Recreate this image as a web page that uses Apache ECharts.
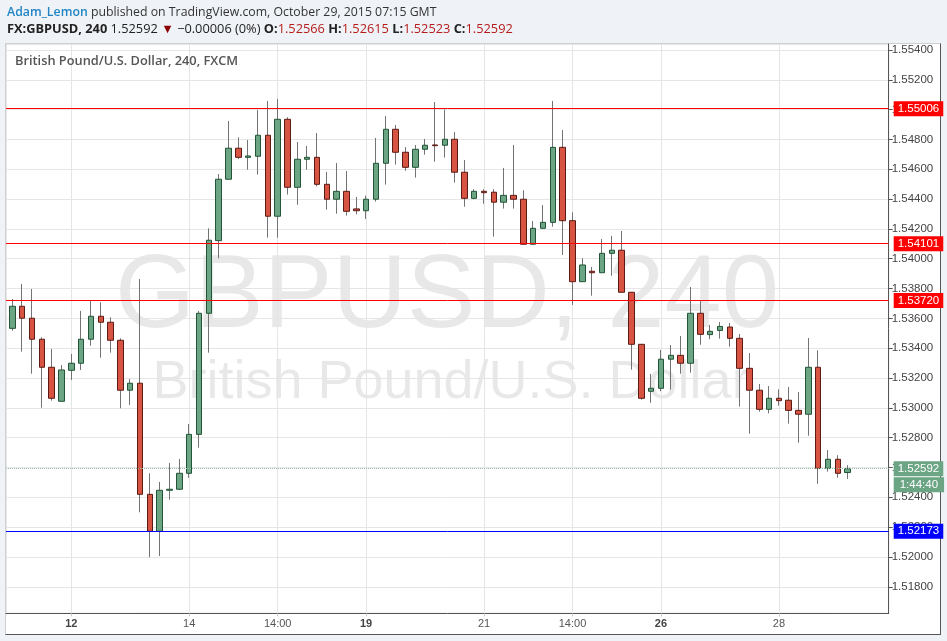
<!DOCTYPE html>
<html><head><meta charset="utf-8">
<script src="https://cdn.jsdelivr.net/npm/echarts@6/dist/echarts.min.js"></script>
<style>
html,body{margin:0;padding:0;background:#eff3f7;}
#wrap{position:relative;width:947px;height:641px;overflow:hidden;}
#frame{position:absolute;left:5px;top:43px;width:934px;height:590px;background:#fff;border-left:1px solid #cfcfcf;border-top:1px solid #cfcfcf;border-right:1px solid #555;border-bottom:1px solid #555;}
#chart{position:absolute;left:0;top:0;width:947px;height:641px;}
</style></head><body>
<div id="wrap"><div id="frame"></div><div id="chart"></div></div>
<script>
// ---- data (GBPUSD 240, FXCM) ----
const opens = [1.53533,1.53681,1.53601,1.53460,1.53272,1.53044,1.53252,1.53299,1.53460,1.53614,1.53574,1.53453,1.53118,1.53165,1.52420,1.52172,1.52447,1.52454,1.52561,1.52822,1.53634,1.54121,1.54533,1.54741,1.54680,1.54687,1.54828,1.54285,1.54935,1.54479,1.54667,1.54680,1.54499,1.54399,1.54452,1.54334,1.54322,1.54399,1.54640,1.54868,1.54714,1.54613,1.54734,1.54763,1.54761,1.54801,1.54580,1.54405,1.54452,1.54446,1.54379,1.54425,1.54399,1.54097,1.54204,1.54244,1.54747,1.54255,1.53846,1.53916,1.53906,1.54036,1.54057,1.53775,1.53426,1.53111,1.53131,1.53326,1.53352,1.53299,1.53634,1.53491,1.53519,1.53542,1.53466,1.53265,1.53118,1.52990,1.53064,1.53051,1.52983,1.52957,1.53272,1.52594,1.52655,1.52566];
const closes = [1.53681,1.53601,1.53460,1.53272,1.53064,1.53254,1.53299,1.53460,1.53614,1.53574,1.53453,1.53118,1.53165,1.52420,1.52172,1.52447,1.52454,1.52561,1.52822,1.53634,1.54124,1.54533,1.54741,1.54680,1.54689,1.54828,1.54285,1.54935,1.54479,1.54667,1.54680,1.54499,1.54399,1.54452,1.54318,1.54322,1.54399,1.54640,1.54868,1.54714,1.54613,1.54734,1.54761,1.54758,1.54801,1.54580,1.54405,1.54452,1.54443,1.54379,1.54425,1.54399,1.54097,1.54204,1.54244,1.54747,1.54255,1.53846,1.53958,1.53906,1.54036,1.54057,1.53775,1.53426,1.53064,1.53131,1.53326,1.53352,1.53299,1.53634,1.53493,1.53513,1.53546,1.53466,1.53265,1.53118,1.52990,1.53064,1.53048,1.52983,1.52957,1.53272,1.52594,1.52655,1.52561,1.52592];
const lows = [1.53517,1.53377,1.53229,1.53001,1.53048,1.53044,1.53187,1.53254,1.53417,1.53336,1.53370,1.52997,1.53019,1.52299,1.51998,1.52006,1.52384,1.52450,1.52531,1.52733,1.53370,1.54003,1.54533,1.54669,1.54597,1.54564,1.54141,1.54141,1.54430,1.54362,1.54597,1.54486,1.54329,1.54302,1.54289,1.54298,1.54267,1.54383,1.54497,1.54631,1.54590,1.54544,1.54698,1.54651,1.54678,1.54510,1.54349,1.54399,1.54369,1.54148,1.54336,1.54336,1.54097,1.54097,1.54204,1.54215,1.54025,1.53690,1.53846,1.53752,1.53906,1.53886,1.53775,1.53256,1.53055,1.53034,1.53111,1.53122,1.53229,1.53236,1.53423,1.53460,1.53464,1.53410,1.53008,1.52827,1.52974,1.52963,1.53014,1.52894,1.52766,1.52813,1.52491,1.52572,1.52531,1.52523];
const highs = [1.53730,1.53831,1.53797,1.53473,1.53395,1.53287,1.53361,1.53650,1.53719,1.53708,1.53607,1.53466,1.53193,1.53864,1.52561,1.52503,1.52630,1.52657,1.52892,1.53650,1.54204,1.54568,1.54924,1.54814,1.54796,1.54998,1.55058,1.55071,1.54949,1.54783,1.54756,1.54843,1.54582,1.54642,1.54588,1.54414,1.54423,1.54810,1.54957,1.54897,1.54749,1.54763,1.54803,1.55051,1.55000,1.54850,1.54662,1.54466,1.54466,1.54466,1.54609,1.54763,1.54459,1.54253,1.54360,1.55058,1.54863,1.54311,1.54003,1.53945,1.54132,1.54153,1.54186,1.53775,1.53426,1.53227,1.53388,1.53421,1.53482,1.53810,1.53717,1.53556,1.53576,1.53569,1.53495,1.53368,1.53160,1.53146,1.53124,1.53140,1.53106,1.53468,1.53386,1.52717,1.52682,1.52615];
const xTickIndex = [6,18,27,36,48,57,66,78];
const xTickLabels = ['12','14','14:00','19','21','14:00','26','28'];
const xTickBold = ['12','19','26'];
const yTicks = [1.518,1.520,1.522,1.524,1.526,1.528,1.530,1.532,1.534,1.536,1.538,1.540,1.542,1.544,1.546,1.548,1.550,1.552,1.554];
const redLevels = [1.55006,1.54101,1.53720];
const blueLevel = 1.52173;
const lastPrice = 1.52592;
const countdown = '1:44:40';

// ---- chart ----
const chart = echarts.init(document.getElementById('chart'), null, {renderer:'canvas'});
const wicks = opens.map((o,i)=>[i,lows[i],highs[i],lows[i],highs[i]]);
const bodies = opens.map((o,i)=>[i,o,closes[i],Math.min(o,closes[i]),Math.max(o,closes[i])]);
const tagLabel = (bg)=>({show:true,position:'end',distance:5,color:'#fff',backgroundColor:bg,padding:[2,4,1,4],fontSize:11.5,fontFamily:'Liberation Sans, Arial',formatter:p=>p.value.toFixed(5)});
const markData = redLevels.map(v=>({yAxis:v,lineStyle:{color:'#ff0000',width:1,type:'solid'},label:tagLabel('#ff0000')}));
markData.push({yAxis:blueLevel,lineStyle:{color:'#0000ff',width:1,type:'solid'},label:tagLabel('#0000ff')});
markData.push({yAxis:lastPrice,lineStyle:{color:'rgba(0,0,0,0)',width:1},label:{show:true,position:'end',distance:5,
  formatter:()=>'{g| }\n{t|'+countdown+'}',
  rich:{g:{height:32,fontSize:11.5,lineHeight:32},
        t:{color:'#fff',backgroundColor:'#6ba583',padding:[2,6,1,6],fontSize:11.5,fontFamily:'Liberation Sans, Arial',height:12,lineHeight:12}}}});
markData.push({yAxis:lastPrice,lineStyle:{color:'#93bfa3',width:1,type:'dotted'},label:tagLabel('#6ba583')});

const sans = 'Open Sans';
chart.setOption({
  animation:false,
  backgroundColor:'transparent',
  title:[
    {left:7,top:6,padding:0,text:'{u|Adam_Lemon} published on TradingView.com, October 29, 2015 07:15 GMT',
     textStyle:{fontFamily:sans,fontSize:12.3,color:'#333',fontWeight:'normal',
       rich:{u:{fontFamily:sans,fontSize:12.3,color:'#2185c5',fontWeight:600}}}},
    {left:7,top:23,padding:0,text:'{b|FX:GBPUSD, 240} 1.52592 {d|▼} −0.00006 (0%) {b|O:}{v|1.52566} {b|H:}{v|1.52615} {b|L:}{v|1.52523} {b|C:}{v|1.52592}',
     textStyle:{fontFamily:sans,fontSize:12.8,color:'#222',fontWeight:'normal',
       rich:{b:{fontFamily:sans,fontSize:12.8,color:'#222',fontWeight:'bold'},
             v:{fontFamily:sans,fontSize:12.8,color:'#b71c1c'},
             d:{fontFamily:sans,fontSize:12.8,color:'#8b0000'}}}},
    {left:15,top:55,padding:0,text:'British Pound/U.S. Dollar, 240, FXCM',
     textStyle:{fontFamily:sans,fontSize:12.8,color:'#555',fontWeight:600}}
  ],
  graphic:[
    {type:'text',x:447,y:299,silent:true,style:{text:'GBPUSD, 240',font:'103px "Liberation Sans"',fill:'rgba(0,0,0,0.09)',textAlign:'center',textVerticalAlign:'middle'}},
    {type:'text',x:451,y:383,silent:true,style:{text:'British Pound/U.S. Dollar',font:'54px "Liberation Sans"',fill:'rgba(0,0,0,0.09)',textAlign:'center',textVerticalAlign:'middle'}}
  ],
  grid:{left:6,right:58.3,top:44,bottom:27.7,show:true,borderColor:'#cfcfcf',borderWidth:1},
  xAxis:{type:'value',min:-0.641,max:89.17,
    axisLine:{show:true,onZero:false,lineStyle:{color:'#555'}},
    axisTick:{show:true,customValues:xTickIndex,length:3,lineStyle:{color:'#cccccc'}},
    axisLabel:{customValues:xTickIndex,margin:5,color:'#555',fontSize:11,fontFamily:'Liberation Sans, Arial',
      formatter:v=>{const k=xTickIndex.indexOf(Math.round(v));const t=k>=0?xTickLabels[k]:'';return xTickBold.includes(t)?'{b|'+t+'}':t;},
      rich:{b:{fontWeight:'bold',color:'#444',fontSize:11,fontFamily:'Liberation Sans, Arial'}}},
    splitLine:{show:true,lineStyle:{color:'#e5e5e5'}}},
  yAxis:{type:'value',position:'right',min:1.51622,max:1.55440,scale:true,
    axisLine:{show:true,onZero:false,lineStyle:{color:'#555'}},
    axisTick:{show:true,customValues:yTicks,length:4,lineStyle:{color:'#555'}},
    axisLabel:{customValues:yTicks,margin:3,color:'#444',fontSize:11.5,fontFamily:'Liberation Sans, Arial',formatter:v=>v.toFixed(5)},
    splitLine:{show:true,lineStyle:{color:'#e5e5e5'}}},
  series:[
    {type:'candlestick',name:'wicks',data:wicks,barWidth:0,silent:true,
     itemStyle:{color:'#737375',color0:'#737375',borderColor:'#737375',borderColor0:'#737375',borderWidth:1}},
    {type:'candlestick',name:'GBPUSD',data:bodies,barWidth:6,
     itemStyle:{color:'#6ba583',color0:'#d75442',borderColor:'#225437',borderColor0:'#5b1a13',borderWidth:1},
     markLine:{symbol:['none','none'],precision:5,silent:true,animation:false,data:markData}}
  ]
});
</script>
</body></html>
